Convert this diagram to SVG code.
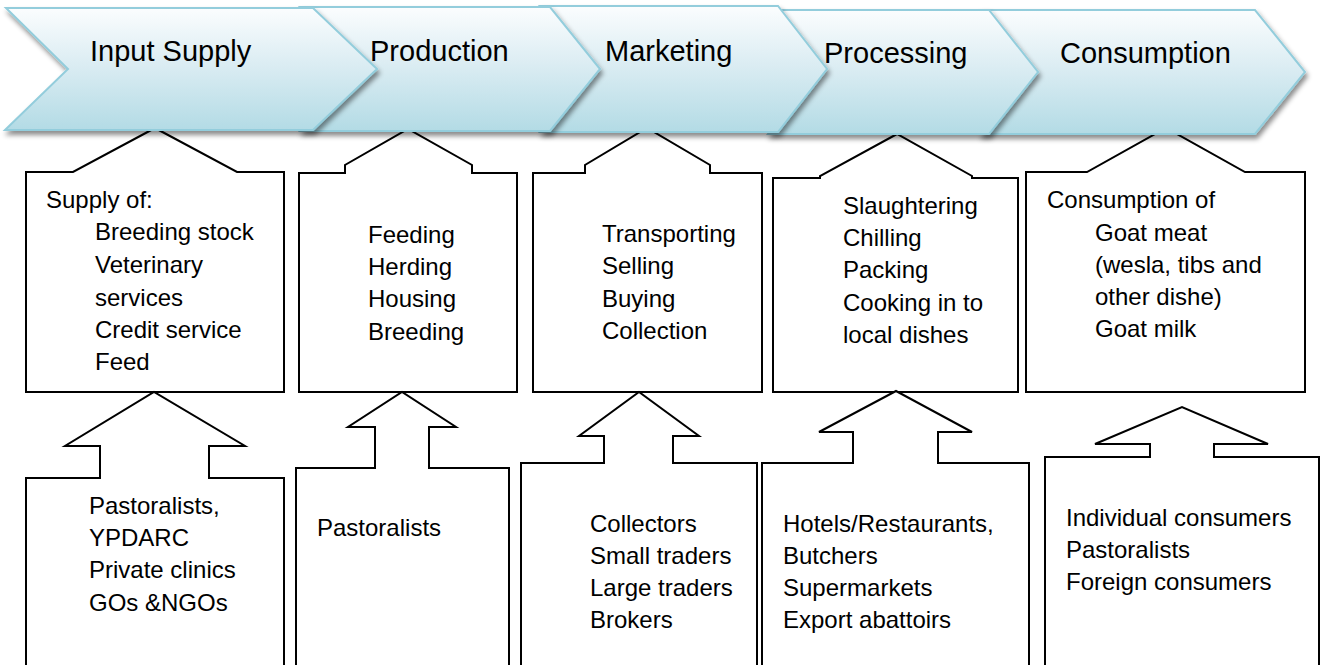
<svg xmlns="http://www.w3.org/2000/svg" width="1325" height="665" viewBox="0 0 1325 665">
<defs>
<linearGradient id="chevFill" x1="0" y1="0" x2="0" y2="1">
<stop offset="0" stop-color="#fbfdfe"/>
<stop offset="0.45" stop-color="#dcedf3"/>
<stop offset="1" stop-color="#b3dbe5"/>
</linearGradient>
<filter id="shadow" x="-5%" y="-10%" width="115%" height="135%">
<feDropShadow dx="2" dy="4" stdDeviation="2.5" flood-color="#000" flood-opacity="0.45"/>
</filter>
</defs>
<style>
.chev{fill:url(#chevFill);stroke:#93cddc;stroke-width:2;stroke-linejoin:miter;filter:url(#shadow)}
.box{fill:#fff;stroke:#000;stroke-width:2;stroke-linejoin:miter}
.t{font-family:"Liberation Sans",Arial,sans-serif;font-size:24px;fill:#000}
.h{font-family:"Liberation Sans",Arial,sans-serif;font-size:29px;fill:#000}
</style>
<rect width="1325" height="665" fill="#fff"/>

<!-- top callouts -->
<g id="activities-input-supply">
<path class="box" d="M26,392 V172 H73 L155,128 L237,172 H284 V392 Z"/>
<text class="t" x="46" y="208">Supply of:</text>
<text class="t" x="95" y="240">Breeding stock</text>
<text class="t" x="95" y="273">Veterinary</text>
<text class="t" x="95" y="306">services</text>
<text class="t" x="95" y="338">Credit service</text>
<text class="t" x="95" y="370">Feed</text>
</g>
<g id="activities-production">
<path class="box" d="M299,392 V173 H345 V165 L408,129 L472,165 V173 H517 V392 Z"/>
<text class="t" x="368" y="243">Feeding</text>
<text class="t" x="368" y="275">Herding</text>
<text class="t" x="368" y="307">Housing</text>
<text class="t" x="368" y="340">Breeding</text>
</g>
<g id="activities-marketing">
<path class="box" d="M533,392 V173 H585 V165 L647,128 L710,165 V173 H762 V392 Z"/>
<text class="t" x="602" y="242">Transporting</text>
<text class="t" x="602" y="274">Selling</text>
<text class="t" x="602" y="307">Buying</text>
<text class="t" x="602" y="339">Collection</text>
</g>
<g id="activities-processing">
<path class="box" d="M773,392 V178 H820 V176 L897,134 L972,176 V178 H1018 V392 Z"/>
<text class="t" x="843" y="214">Slaughtering</text>
<text class="t" x="843" y="246">Chilling</text>
<text class="t" x="843" y="278">Packing</text>
<text class="t" x="843" y="311">Cooking in to</text>
<text class="t" x="843" y="343">local dishes</text>
</g>
<g id="activities-consumption">
<path class="box" d="M1026,392 V172 H1087 L1166,128 L1245,172 H1305 V392 Z"/>
<text class="t" x="1047" y="208">Consumption of</text>
<text class="t" x="1095" y="241">Goat meat</text>
<text class="t" x="1095" y="273">(wesla, tibs and</text>
<text class="t" x="1095" y="305">other dishe)</text>
<text class="t" x="1095" y="337">Goat milk</text>
</g>

<!-- bottom actor callouts -->
<g id="actors-input-supply">
<path class="box" d="M26,680 V478 H100 V446 H65 L154,392 L245,446 H209 V478 H284 V680"/>
<text class="t" x="89" y="514">Pastoralists,</text>
<text class="t" x="89" y="546">YPDARC</text>
<text class="t" x="89" y="578">Private clinics</text>
<text class="t" x="89" y="611">GOs &amp;NGOs</text>
</g>
<g id="actors-production">
<path class="box" d="M296,680 V468 H375 V427 H348 L402,392 L456,427 H429 V468 H509 V680"/>
<text class="t" x="317" y="536">Pastoralists</text>
</g>
<g id="actors-marketing">
<path class="box" d="M521,680 V463 H604 V436 H579 L639,392 L699,436 H673 V463 H757 V680"/>
<text class="t" x="590" y="532">Collectors</text>
<text class="t" x="590" y="564">Small traders</text>
<text class="t" x="590" y="596">Large traders</text>
<text class="t" x="590" y="628">Brokers</text>
</g>
<g id="actors-processing">
<path class="box" d="M762,680 V463 H853 V432 H819 L896,391 L972,432 H938 V463 H1029 V680"/>
<text class="t" x="783" y="532">Hotels/Restaurants,</text>
<text class="t" x="783" y="564">Butchers</text>
<text class="t" x="783" y="596">Supermarkets</text>
<text class="t" x="783" y="628">Export abattoirs</text>
</g>
<g id="actors-consumption">
<path class="box" d="M1045,680 V457 H1150 V444 H1095 L1182,407 L1268,444 H1214 V457 H1319 V680"/>
<text class="t" x="1066" y="526">Individual consumers</text>
<text class="t" x="1066" y="558">Pastoralists</text>
<text class="t" x="1066" y="590">Foreign consumers</text>
</g>

<g id="connectors"></g>

<!-- chevrons, drawn right to left so each point overlaps the next -->
<g id="stage-consumption">
<polygon class="chev" points="980,10 1255,10 1305,72 1255,134 980,134 1029,72"/>
<text class="h" x="1060" y="63">Consumption</text>
</g>
<g id="stage-processing">
<polygon class="chev" points="768,10 989,10 1038,72 989,134 768,134 817,72"/>
<text class="h" x="824" y="63">Processing</text>
</g>
<g id="stage-marketing">
<polygon class="chev" points="540,6 778,6 827,69 778,132 540,132 590,69"/>
<text class="h" x="605" y="61">Marketing</text>
</g>
<g id="stage-production">
<polygon class="chev" points="300,7 550,7 600,69 550,131 300,131 350,69"/>
<text class="h" x="370" y="61">Production</text>
</g>
<g id="stage-input-supply">
<polygon class="chev" points="6,8 313,8 377,69 313,130 5,130 68,69"/>
<text class="h" x="90" y="61">Input Supply</text>
</g>
</svg>
